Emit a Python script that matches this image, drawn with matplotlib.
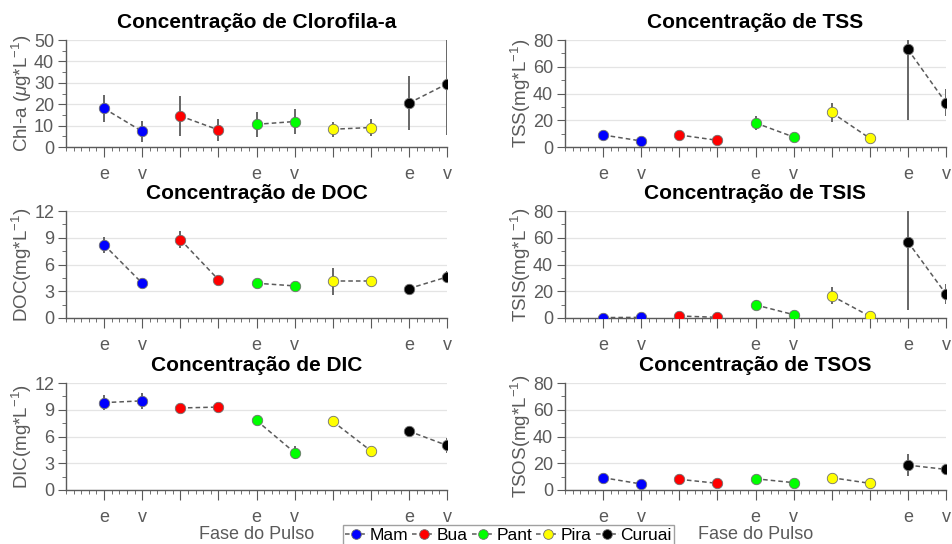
import numpy as np
import matplotlib
matplotlib.use('Agg')
import matplotlib.pyplot as plt
from matplotlib.lines import Line2D
from matplotlib.ticker import MultipleLocator

plt.rcParams['font.family'] = ['Liberation Sans', 'DejaVu Sans']
plt.rcParams['mathtext.fontset'] = 'custom'
plt.rcParams['mathtext.rm'] = 'Liberation Sans'
plt.rcParams['mathtext.it'] = 'Liberation Sans:italic'

# sites, each one has two phases (e = enchente, v = vazante)
sites = ['Mam', 'Bua', 'Pant', 'Pira', 'Curuai']
colors = ['#0000ff', '#ff0000', '#00ff00', '#ffff00', '#000000']
tick_labels = ['e', 'v', '', '', 'e', 'v', '', '', 'e', 'v']

# mean values (e, v) per site and error (e, v) per site
chla = [[18.0, 7.3], [14.5, 8.0], [10.6, 11.9], [8.3, 9.1], [20.5, 29.5]]
chla_err = [[6.3, 5.0], [9.4, 5.0], [5.9, 6.0], [3.5, 4.0], [12.5, 24.0]]

tss = [[9.0, 4.5], [9.0, 5.0], [18.0, 7.5], [25.8, 6.5], [73.0, 33.0]]
tss_err = [[1.0, 1.0], [1.0, 1.0], [5.0, 1.0], [7.0, 1.0], [53.0, 10.0]]

doc = [[8.2, 3.9], [8.8, 4.3], [3.9, 3.6], [4.1, 4.1], [3.3, 4.6]]
doc_err = [[0.9, 0.3], [0.95, 0.3], [0.3, 0.3], [1.5, 0.3], [0.2, 0.65]]

tsis = [[0.3, 0.5], [1.5, 0.5], [9.8, 2.5], [16.6, 1.3], [56.9, 17.9]]
tsis_err = [[0.5, 0.5], [0.5, 0.5], [3.5, 1.0], [6.3, 1.0], [51.0, 7.5]]

dic = [[9.8, 10.0], [9.2, 9.3], [7.8, 4.2], [7.7, 4.4], [6.6, 5.0]]
dic_err = [[0.85, 0.9], [0.5, 0.5], [0.55, 0.7], [0.3, 0.4], [0.3, 0.85]]

tsos = [[9.2, 4.5], [8.0, 5.0], [8.4, 5.5], [9.2, 5.0], [18.6, 15.4]]
tsos_err = [[1.0, 1.0], [1.0, 1.0], [1.0, 1.0], [1.0, 1.0], [8.0, 3.0]]

panels = [
    ('Concentração de Clorofila-a', r'Chl-a ($\mu$g*L$^{-1}$)', chla, chla_err, 50, 10, 5),
    ('Concentração de TSS', r'TSS(mg*L$^{-1}$)', tss, tss_err, 80, 20, 10),
    ('Concentração de DOC', r'DOC(mg*L$^{-1}$)', doc, doc_err, 12, 3, 1.5),
    ('Concentração de TSIS', r'TSIS(mg*L$^{-1}$)', tsis, tsis_err, 80, 20, 10),
    ('Concentração de DIC', r'DIC(mg*L$^{-1}$)', dic, dic_err, 12, 3, 1.5),
    ('Concentração de TSOS', r'TSOS(mg*L$^{-1}$)', tsos, tsos_err, 80, 20, 10),
]

GRAY = '#5a5a5a'

fig = plt.figure(figsize=(9.52, 5.44), dpi=100)

lefts = [66 / 952, 565 / 952]
width = 381 / 952
bottoms = [1 - 147 / 544, 1 - 318 / 544, 1 - 490 / 544]
height = 107 / 544

for k, (title, ylabel, vals, errs, ymax, major, minor) in enumerate(panels):
    row, col = k // 2, k % 2
    ax = fig.add_axes([lefts[col], bottoms[row], width, height])

    for i, (site, c) in enumerate(zip(sites, colors)):
        x = [2 * i + 1, 2 * i + 2]
        ax.errorbar(x, vals[i], yerr=errs[i], fmt='none', ecolor='#666666',
                    elinewidth=1.4, capsize=0, zorder=2)
        ax.plot(x, vals[i], linestyle='--', dashes=(3, 2), color=GRAY, lw=1.1,
                marker='o', markersize=7.5, markerfacecolor=c,
                markeredgecolor='#707070', markeredgewidth=0.6, zorder=3)

    ax.set_xlim(0, 10)
    ax.set_ylim(0, ymax)
    ax.set_xticks(np.arange(1, 11))
    ax.set_xticklabels(tick_labels)
    ax.xaxis.set_minor_locator(MultipleLocator(0.2))
    ax.yaxis.set_major_locator(MultipleLocator(major))
    ax.yaxis.set_minor_locator(MultipleLocator(minor))
    ax.grid(axis='y', color='#e4e4e4', lw=0.9)
    ax.set_axisbelow(True)

    for s in ['top', 'right']:
        ax.spines[s].set_visible(False)
    for s in ['left', 'bottom']:
        ax.spines[s].set_color(GRAY)
        ax.spines[s].set_linewidth(1.0)

    ax.tick_params(axis='x', which='major', length=7, color=GRAY, labelcolor=GRAY,
                   labelsize=13, pad=6.5)
    ax.tick_params(axis='x', which='minor', length=3, color=GRAY)
    ax.tick_params(axis='y', which='major', length=6, color=GRAY, labelcolor=GRAY,
                   labelsize=13, pad=2.5)
    ax.tick_params(axis='y', which='minor', length=3, color=GRAY)

    ax.set_title(title, fontsize=15, fontweight='bold', pad=8.5)
    ax.set_ylabel(ylabel, fontsize=13.5, color=GRAY, labelpad=0)

    if row == 2:
        ax.set_xlabel('Fase do Pulso', fontsize=13, color=GRAY, labelpad=0)

handles = [Line2D([], [], linestyle='--', dashes=(3, 2), color=GRAY, lw=1.1,
                  marker='o', markersize=7, markerfacecolor=c,
                  markeredgecolor='#707070', markeredgewidth=0.6)
           for c in colors]
leg = fig.legend(handles, sites, loc='center', bbox_to_anchor=(0.534, 0.016), ncol=5,
                 fontsize=12.5, handlelength=1.3, handletextpad=0.1, columnspacing=0.25,
                 borderpad=0.15, frameon=True, fancybox=False, borderaxespad=0)
leg.get_frame().set_edgecolor('#888888')
leg.get_frame().set_linewidth(1.0)

plt.savefig('out.png', dpi=100)
